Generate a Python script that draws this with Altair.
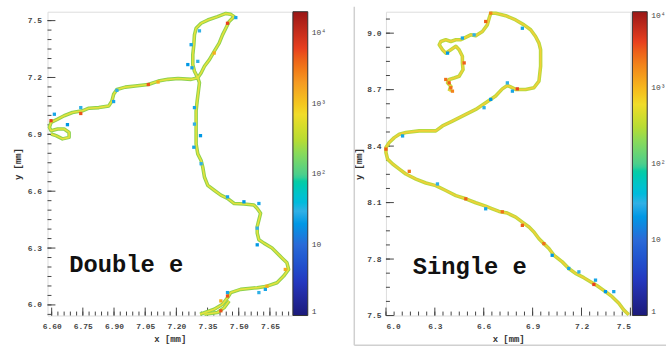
import altair as alt
import pandas as pd

# ---------------- Left panel: "Double e" ----------------
L_TRACK_X = [7.314, 7.382, 7.422, 7.446, 7.462, 7.509, 7.589, 7.636, 7.684, 7.716, 7.740, 7.732, 7.708, 7.684,
             7.660, 7.621, 7.597, 7.589, 7.589, 7.597, 7.605, 7.589, 7.573, 7.525, 7.478, 7.446, 7.414, 7.382,
             7.351, 7.335, 7.327, 7.319, 7.303, 7.295, 7.295, 7.295, 7.295, 7.300, 7.306, 7.311, 7.303,
             7.287, 7.279, 7.279, 7.284, 7.287, 7.295, 7.319, 7.351, 7.398, 7.438, 7.462, 7.478,
             7.454, 7.438, 7.422, 7.406, 7.382, 7.359, 7.335, 7.319, 7.303,
             7.271, 7.208, 7.160, 7.113, 7.065, 7.002, 6.954, 6.914, 6.898, 6.890, 6.875, 6.827, 6.779, 6.748,
             6.700, 6.660, 6.629, 6.597, 6.589, 6.597, 6.629, 6.660, 6.684, 6.684, 6.652, 6.621, 6.597]
L_TRACK_Y = [5.951, 5.977, 6.003, 6.038, 6.065, 6.082, 6.091, 6.099, 6.117, 6.152, 6.187, 6.222, 6.248, 6.274,
             6.300, 6.326, 6.344, 6.379, 6.413, 6.448, 6.483, 6.509, 6.527, 6.532, 6.535, 6.562, 6.579, 6.605,
             6.631, 6.675, 6.727, 6.762, 6.797, 6.849, 6.902, 6.954, 7.024, 7.076, 7.128, 7.172, 7.198,
             7.233, 7.268, 7.320, 7.373, 7.425, 7.460, 7.486, 7.503, 7.521, 7.538, 7.533, 7.521,
             7.495, 7.460, 7.425, 7.381, 7.338, 7.294, 7.259, 7.224, 7.198,
             7.190, 7.195, 7.190, 7.181, 7.163, 7.155, 7.149, 7.137, 7.111, 7.076, 7.050, 7.041, 7.038, 7.024,
             7.015, 6.998, 6.980, 6.963, 6.937, 6.919, 6.928, 6.928, 6.910, 6.884, 6.876, 6.893, 6.902]
L_STRAND_X = [7.335, 7.398, 7.430, 7.454]
L_STRAND_Y = [5.951, 5.960, 5.986, 6.021]

L_HIT_X = [7.486, 7.311, 7.271, 7.255, 7.303, 7.275, 7.287, 7.287, 7.316, 7.284, 7.319, 6.613, 6.676, 6.740,
           6.898, 6.914, 7.446, 7.525, 7.597, 7.589, 7.589, 7.446, 7.597, 7.628,
           7.446, 7.382, 7.065, 7.112, 6.740, 6.597, 7.414, 7.446, 7.414, 7.636, 7.724]
L_HIT_Y = [7.516, 7.446, 7.373, 7.268, 7.285, 7.251, 7.041, 6.954, 6.893, 6.832, 6.745, 7.006, 6.951, 7.041,
           7.073, 7.132, 6.570, 6.544, 6.535, 6.405, 6.317, 6.065, 6.065, 6.082,
           7.486, 7.329, 7.163, 7.176, 7.010, 6.972, 6.021, 6.047, 5.969, 6.099, 6.187]
L_HIT_E = [25, 30, 25, 20, 30, 25, 25, 30, 20, 25, 30, 25, 20, 30,
           25, 30, 25, 20, 25, 30, 20, 25, 30, 25,
           6000, 1500, 5000, 1500, 5000, 6000, 1500, 5000, 5000, 1500, 1500]

L_XDOM = [6.58, 7.756]
L_YDOM = [5.944, 7.547]
L_XMAJ = [6.60, 6.75, 6.90, 7.05, 7.20, 7.35, 7.50, 7.65]
L_YMAJ = [6.0, 6.3, 6.6, 6.9, 7.2, 7.5]

# ---------------- Right panel: "Single e" ----------------
R_TRACK_X = [7.490, 7.459, 7.429, 7.388, 7.347, 7.296, 7.255, 7.214, 7.163, 7.122,
             7.082, 7.031, 7.000, 6.969, 6.939, 6.908, 6.878, 6.837, 6.796, 6.745,
             6.694, 6.653, 6.612, 6.551, 6.490, 6.429, 6.367, 6.306, 6.245, 6.184,
             6.122, 6.082, 6.041, 6.010, 6.000, 6.000, 6.020, 6.051, 6.082, 6.122,
             6.204, 6.306, 6.347, 6.408, 6.490, 6.551, 6.612, 6.673, 6.714, 6.745,
             6.765, 6.796, 6.857, 6.908, 6.939, 6.949, 6.949, 6.939, 6.918, 6.888,
             6.847, 6.796, 6.735, 6.673, 6.643, 6.633, 6.622, 6.592, 6.551, 6.520,
             6.480, 6.459, 6.429, 6.398, 6.367, 6.337, 6.327, 6.347, 6.367, 6.398,
             6.429, 6.449, 6.469, 6.469, 6.473, 6.449, 6.418, 6.388, 6.378, 6.398, 6.388]
R_TRACK_Y = [7.504, 7.530, 7.565, 7.600, 7.627, 7.658, 7.680, 7.701, 7.724, 7.750,
             7.785, 7.820, 7.856, 7.882, 7.908, 7.944, 7.970, 7.996, 8.023, 8.044,
             8.053, 8.067, 8.081, 8.099, 8.120, 8.137, 8.164, 8.190, 8.204, 8.225,
             8.252, 8.278, 8.305, 8.331, 8.366, 8.393, 8.419, 8.445, 8.463, 8.472,
             8.481, 8.481, 8.507, 8.533, 8.569, 8.595, 8.630, 8.666, 8.704, 8.722,
             8.715, 8.701, 8.701, 8.710, 8.745, 8.824, 8.912, 8.947, 8.982, 9.018,
             9.044, 9.070, 9.093, 9.106, 9.106, 9.079, 9.044, 9.009, 8.986, 8.991,
             8.974, 8.965, 8.965, 8.956, 8.965, 8.956, 8.938, 8.912, 8.894, 8.912,
             8.930, 8.912, 8.877, 8.842, 8.806, 8.771, 8.762, 8.754, 8.736, 8.718, 8.692]

R_HIT_X = [6.469, 6.541, 6.378, 6.837, 6.745, 6.776, 6.643, 6.602, 6.102, 6.316, 6.612, 7.020, 7.122, 7.184,
           7.286, 7.347, 7.398,
           6.612, 6.643, 6.806, 6.480, 6.367, 6.398, 6.388, 6.408, 6.000, 6.143, 6.490, 6.714, 6.837, 6.969,
           7.276]
R_HIT_Y = [8.974, 8.991, 8.894, 9.026, 8.736, 8.692, 8.648, 8.604, 8.454, 8.199, 8.067, 7.820, 7.750, 7.732,
           7.688, 7.627, 7.627,
           9.062, 9.106, 8.704, 8.842, 8.754, 8.710, 8.736, 8.692, 8.384, 8.266, 8.120, 8.051, 7.979, 7.882,
           7.665]
R_HIT_E = [25, 30, 20, 25, 30, 25, 20, 30, 25, 30, 25, 20, 25, 30, 25, 20, 25,
           3000, 2000, 4000, 3000, 2500, 2500, 3000, 2000, 3000, 2500, 3000, 2500, 3000, 2500, 4000]

R_XDOM = [6.0, 7.5]
R_YDOM = [7.5, 9.114]
R_XMAJ = [6.0, 6.3, 6.6, 6.9, 7.2, 7.5]
R_YMAJ = [7.5, 7.8, 8.1, 8.4, 8.7, 9.0]

# colour bar
CB_VALUES = [1, 10, 100, 1000, 10000]
CB_COLORS = ["#1c1a7a", "#2438c0", "#2a6ad8", "#30b0e6", "#4ccf8c", "#b6dc34", "#f0dc2a", "#f59a22",
             "#e8401e", "#9a1616"]
L_CB_STOPS = [1, 3, 10, 30, 100, 300, 700, 2000, 6000, 20000]
R_CB_STOPS = [1, 3, 10, 30, 100, 300, 600, 1500, 4000, 10000]

FONT = "Liberation Mono"
W, H = 247, 307


def minors(majors, step, lo, hi):
    out = []
    v = majors[0]
    while v - step >= lo - 1e-9:
        v -= step
    while v <= hi + 1e-9:
        out.append(round(v, 4))
        v += step
    return out


def panel(tx, ty, sx, sy, hx, hy, he, xdom, ydom, xmaj, ymaj, xstep, ystep, xfmt, yfmt, stops,
          label, lab_x, lab_y, outer, inner, ylabpad, ytitlepad, boxed=False):
    xs = alt.Scale(domain=xdom, nice=False, zero=False)
    ys = alt.Scale(domain=ydom, nice=False, zero=False)
    xaxis = alt.Axis(values=xmaj, format=xfmt, ticks=False, tickSize=0, domain=False, grid=False,
                     labelFont=FONT, labelFontSize=8, labelFontWeight="bold", labelColor="#444",
                     labelPadding=7, title="x  [mm]", titleFont=FONT, titleFontSize=9,
                     titleFontWeight="bold", titleColor="#333", titlePadding=4)
    yaxis = alt.Axis(values=ymaj, format=yfmt, ticks=False, tickSize=0, domain=False, grid=False,
                     labelFont=FONT, labelFontSize=8, labelFontWeight="bold", labelColor="#444",
                     labelPadding=ylabpad, title="y [mm]", titleFont=FONT, titleFontSize=9,
                     titleFontWeight="bold", titleColor="#333", titlePadding=ytitlepad)
    X = lambda f: alt.X(f, scale=xs, axis=xaxis)
    Y = lambda f: alt.Y(f, scale=ys, axis=yaxis)

    xmin = minors(xmaj, xstep, xdom[0], xdom[1])
    ymin = minors(ymaj, ystep, ydom[0], ydom[1])

    xt_maj = alt.Chart(pd.DataFrame({"x": xmaj})).mark_rule(color="#444").encode(
        x=X("x:Q"), y=alt.value(H), y2=alt.value(H - 8))
    xt_min = alt.Chart(pd.DataFrame({"x": xmin})).mark_rule(color="#444").encode(
        x=X("x:Q"), y=alt.value(H), y2=alt.value(H - 4))
    yt_maj = alt.Chart(pd.DataFrame({"y": ymaj})).mark_rule(color="#444").encode(
        y=Y("y:Q"), x=alt.value(0), x2=alt.value(8))
    yt_min = alt.Chart(pd.DataFrame({"y": ymin})).mark_rule(color="#444").encode(
        y=Y("y:Q"), x=alt.value(0), x2=alt.value(4))

    segs = [(tx, ty)] + ([(sx, sy)] if sx else [])
    rows = []
    for k, (a, b) in enumerate(segs):
        for i, (xv, yv) in enumerate(zip(a, b)):
            rows.append({"x": xv, "y": yv, "seg": k, "i": i})
    tdf = pd.DataFrame(rows)
    line_outer = alt.Chart(tdf).mark_line(color=outer, strokeWidth=3.6, strokeJoin="round").encode(
        x=X("x:Q"), y=Y("y:Q"), detail="seg:N", order="i:Q")
    line_inner = alt.Chart(tdf).mark_line(color=inner, strokeWidth=1.6, strokeJoin="round").encode(
        x=X("x:Q"), y=Y("y:Q"), detail="seg:N", order="i:Q")

    hdf = pd.DataFrame({"x": hx, "y": hy, "e": he})
    hits = alt.Chart(hdf).mark_square(size=11, opacity=1).encode(
        x=X("x:Q"), y=Y("y:Q"),
        color=alt.Color("e:Q", scale=alt.Scale(type="log", domain=stops, range=CB_COLORS),
                        legend=alt.Legend(title=None, orient="right", offset=1, padding=0,
                                          gradientLength=H, gradientThickness=15,
                                          gradientStrokeColor="#333", gradientStrokeWidth=1,
                                          values=CB_VALUES, direction="vertical", type="gradient",
                                          labelExpr="datum.value == 1 ? '1' : datum.value == 10 ? '10' : datum.value == 100 ? '10²' : datum.value == 1000 ? '10³' : '10⁴'",
                                          labelFont=FONT, labelFontSize=8, labelColor="#444",
                                          labelOffset=4)))

    txt = alt.Chart(pd.DataFrame({"t": [label]})).mark_text(
        align="left", baseline="alphabetic", font=FONT, fontSize=24, fontWeight="bold", color="#111"
    ).encode(x=alt.value(lab_x), y=alt.value(lab_y), text="t:N")

    layers = [xt_maj, xt_min, yt_maj, yt_min, line_outer, line_inner, hits, txt]
    if boxed:
        one = pd.DataFrame({"k": [0]})
        vline = alt.Chart(one).mark_rule(color="#d0d0d0", strokeWidth=1.5).encode(
            x=alt.value(-32), y=alt.value(-5), y2=alt.value(337))
        hline = alt.Chart(one).mark_rule(color="#d0d0d0", strokeWidth=1.5).encode(
            x=alt.value(-32), x2=alt.value(283), y=alt.value(337))
        layers = [vline, hline] + layers
    return alt.layer(*layers).properties(width=W, height=H)


left = panel(L_TRACK_X, L_TRACK_Y, L_STRAND_X, L_STRAND_Y, L_HIT_X, L_HIT_Y, L_HIT_E,
             L_XDOM, L_YDOM, L_XMAJ, L_YMAJ, 0.03, 0.05, ".2f", ".1f", L_CB_STOPS,
             "Double e", 22, 263, "#8fd24e", "#e6e23c", 6, 5)
right = panel(R_TRACK_X, R_TRACK_Y, None, None, R_HIT_X, R_HIT_Y, R_HIT_E,
              R_XDOM, R_YDOM, R_XMAJ, R_YMAJ, 0.05, 0.075, ".1f", ".1f", R_CB_STOPS,
              "Single e", 27, 265, "#b8da3e", "#f2cf38", 5, 3, boxed=True)

chart = alt.hconcat(left, right, spacing=25).resolve_scale(color="independent").properties(
    padding={"left": 13, "top": 3, "right": 0, "bottom": 0}
).configure_view(stroke="#555", strokeWidth=1).configure(background="white")

chart.save("out.html", embed_options={"renderer": "svg", "actions": False})
